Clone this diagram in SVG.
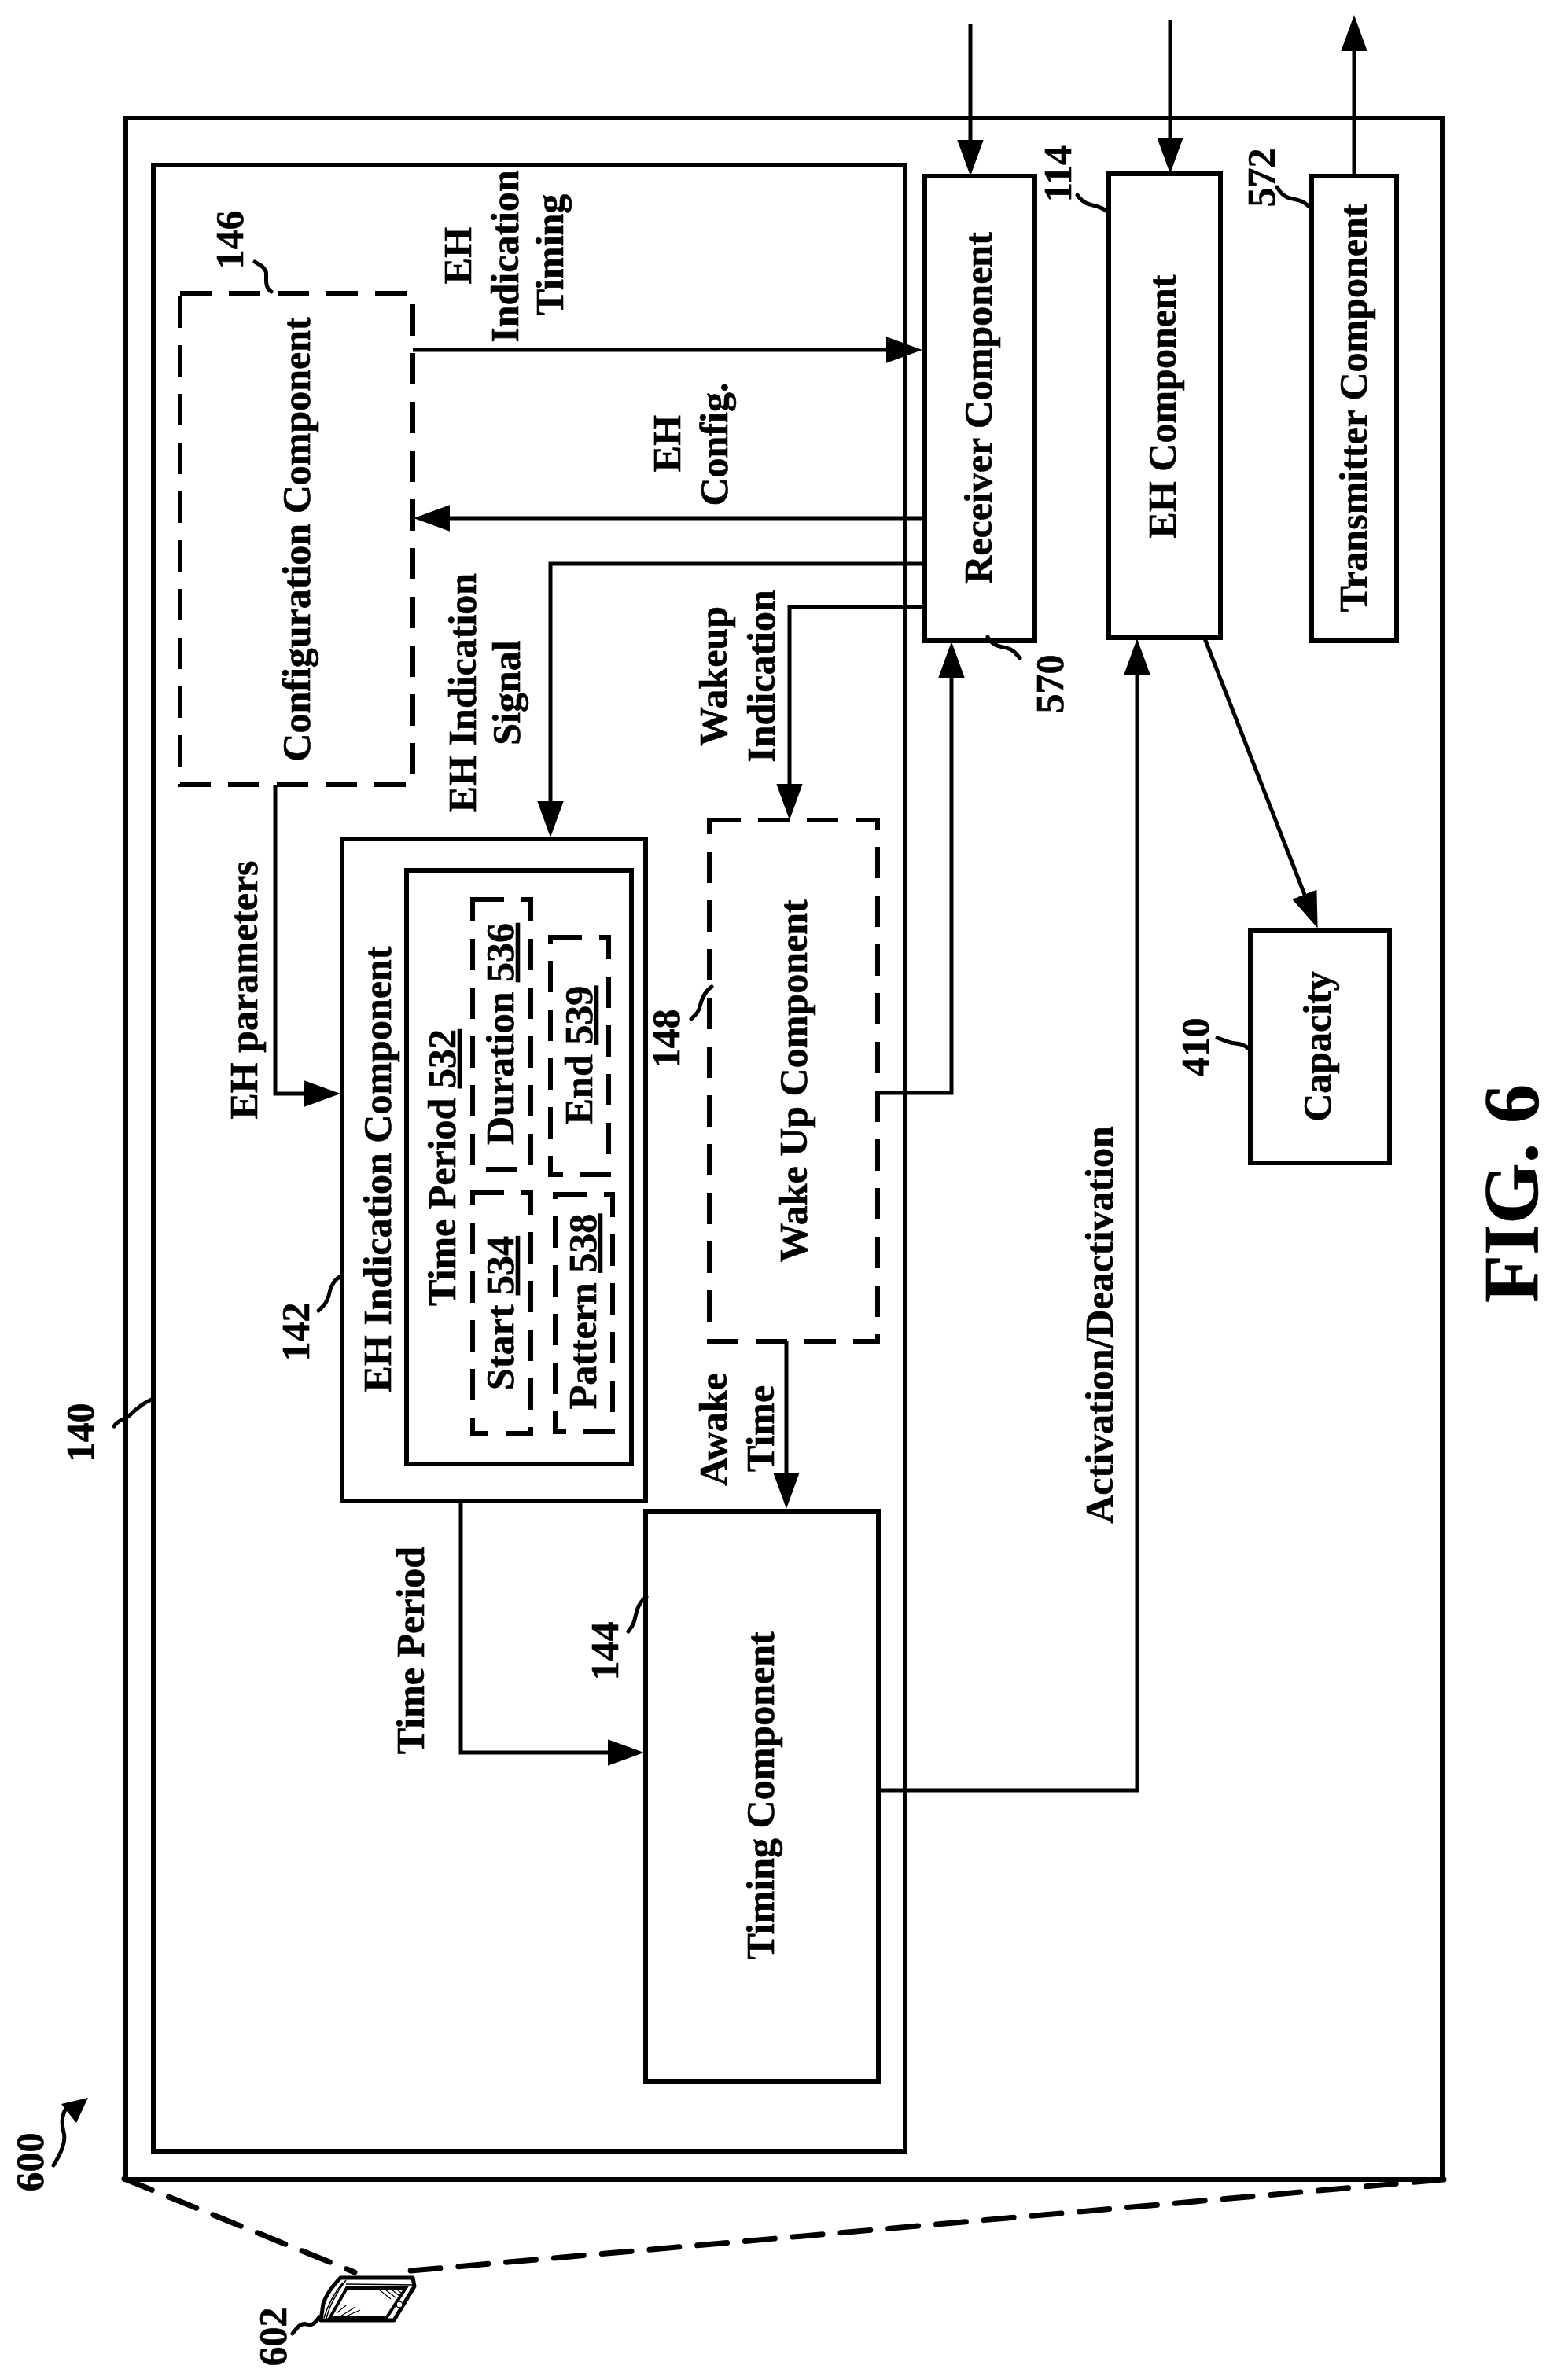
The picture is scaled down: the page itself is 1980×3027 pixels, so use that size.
<svg xmlns="http://www.w3.org/2000/svg" width="1980" height="3027" viewBox="0 0 1980 3027">
<style>
text{font-family:"Liberation Serif","Times New Roman",serif;font-weight:bold;fill:#000;text-anchor:middle;stroke:#000;stroke-width:.6px}
.t{font-size:50px}
.n{font-size:50px}
.u{text-decoration:underline}
.b{fill:none;stroke:#000;stroke-width:6}
.d{fill:none;stroke:#000;stroke-width:6;stroke-dasharray:40 22}
.c{fill:none;stroke:#000;stroke-width:5;marker-end:url(#ah)}
.s{fill:none;stroke:#000;stroke-width:5;stroke-linecap:round}
.l{fill:none;stroke:#000;stroke-width:7;stroke-dasharray:38 23;stroke-linecap:round}
</style>
<defs>
<marker id="ah" markerUnits="userSpaceOnUse" markerWidth="46" markerHeight="34" viewBox="0 0 44 32" refX="24" refY="16" orient="auto"><path d="M0 0L44 16L0 32Z" fill="#000"/></marker>
</defs>
<rect width="1980" height="3027" fill="#fff"/>
<g id="ue-600">
<rect class="b" x="160" y="150" width="1674" height="2622"/>
<path class="s" d="M68 2754C80 2735 84 2722 81 2712C78 2700 78 2690 86 2678"/>
<path d="M112 2668L78 2676L97 2700Z" fill="#000"/>
<text class="n" transform="translate(55,2750) rotate(-90)">600</text>
</g>
<g id="apparatus-140">
<rect class="b" x="195" y="210" width="956" height="2526"/>
<path class="s" d="M195 1779C180 1785 170 1795 165 1800C155 1808 152 1804 145 1814"/>
<text class="n" transform="translate(119,1822) rotate(-90)">140</text>
</g>
<g id="connectors">
<path class="c" d="M1234 30V203"/>
<path class="c" d="M1488 26V200"/>
<path class="c" d="M1722 224V40"/>
<path class="c" d="M525 445H1152"/>
<path class="c" d="M1175 659H547"/>
<path class="c" d="M1175 717H700V1044"/>
<path class="c" d="M1175 772H1004V1022"/>
<path class="c" d="M350 998V1391H412"/>
<path class="c" d="M586 1909V2229H798"/>
<path class="c" d="M1000 1706V1898"/>
<path class="c" d="M1116 1390H1210V837"/>
<path class="c" d="M1116 2277H1446V833"/>
<path class="c" d="M1532 812L1668 1161"/>
<path class="l" d="M158 2771L451 2890"/>
<path class="l" d="M1836 2772L511 2889"/>
</g>
<g id="edge-labels">
<text class="t" transform="translate(599,325) rotate(-90)">EH</text>
<text class="t" transform="translate(659,326) rotate(-90)">Indication</text>
<text class="t" transform="translate(716,324) rotate(-90)">Timing</text>
<text class="t" transform="translate(865,564) rotate(-90)">EH</text>
<text class="t" transform="translate(925,565) rotate(-90)">Config.</text>
<text class="t" transform="translate(605,881) rotate(-90)">EH Indication</text>
<text class="t" transform="translate(661,881) rotate(-90)">Signal</text>
<text class="t" transform="translate(924,860) rotate(-90)">Wakeup</text>
<text class="t" transform="translate(985,860) rotate(-90)">Indication</text>
<text class="t" transform="translate(327,1259) rotate(-90)">EH parameters</text>
<text class="t" transform="translate(539,2099) rotate(-90)">Time Period</text>
<text class="t" transform="translate(924,1818) rotate(-90)">Awake</text>
<text class="t" transform="translate(984,1817) rotate(-90)">Time</text>
<text class="t" transform="translate(1415,1685) rotate(-90)">Activation/Deactivation</text>
</g>
<g id="configuration-146">
<rect class="d" x="229" y="373" width="296" height="625"/>
<text class="t" transform="translate(394,686) rotate(-90)">Configuration Component</text>
<path class="s" d="M345 371C335 365 340 350 338 345C334 338 332 338 324 333"/>
<text class="n" transform="translate(309,305) rotate(-90)">146</text>
</g>
<g id="eh-indication-142">
<rect class="b" x="435" y="1067" width="386" height="842"/>
<rect class="b" x="517" y="1107" width="286" height="755"/>
<text class="t" transform="translate(497,1487) rotate(-90)">EH Indication Component</text>
<text class="t" transform="translate(579,1485) rotate(-90)">Time Period <tspan class="u">532</tspan></text>
<path class="s" d="M432 1624C422 1630 420 1640 418 1648C415 1658 412 1660 405 1667"/>
<text class="n" transform="translate(393,1694) rotate(-90)">142</text>
</g>
<g id="start-534">
<rect class="d" x="601" y="1517" width="74" height="306"/>
<text class="t" transform="translate(653,1670) rotate(-90)">Start <tspan class="u">534</tspan></text>
</g>
<g id="duration-536">
<rect class="d" x="601" y="1144" width="74" height="343"/>
<text class="t" transform="translate(653,1315) rotate(-90)">Duration <tspan class="u">536</tspan></text>
</g>
<g id="pattern-538">
<rect class="d" x="706" y="1519" width="73" height="302"/>
<text class="t" transform="translate(758,1668) rotate(-90)">Pattern <tspan class="u">538</tspan></text>
</g>
<g id="end-539">
<rect class="d" x="700" y="1192" width="74" height="302"/>
<text class="t" transform="translate(753,1342) rotate(-90)">End <tspan class="u">539</tspan></text>
</g>
<g id="wake-up-148">
<rect class="d" x="902" y="1043" width="214" height="663"/>
<text class="t" transform="translate(1026,1375) rotate(-90)">Wake Up Component</text>
<path class="s" d="M905 1255C895 1262 892 1272 890 1280C888 1288 885 1290 879 1296"/>
<text class="n" transform="translate(864,1321) rotate(-90)">148</text>
</g>
<g id="timing-144">
<rect class="b" x="821" y="1922" width="296" height="725"/>
<text class="t" transform="translate(984,2284) rotate(-90)">Timing Component</text>
<path class="s" d="M822 2031C812 2038 810 2048 808 2056C806 2066 804 2068 799 2075"/>
<text class="n" transform="translate(786,2100) rotate(-90)">144</text>
</g>
<g id="receiver-570">
<rect class="b" x="1176" y="224" width="140" height="591"/>
<text class="t" transform="translate(1261,519) rotate(-90)">Receiver Component</text>
<path class="s" d="M1256 810C1262 822 1272 822 1280 824C1288 826 1291 830 1297 837"/>
<text class="n" transform="translate(1352,870) rotate(-90)">570</text>
</g>
<g id="eh-component-114">
<rect class="b" x="1410" y="221" width="142" height="590"/>
<text class="t" transform="translate(1495,517) rotate(-90)">EH Component</text>
<path class="s" d="M1409 270C1400 262 1392 262 1386 260C1378 258 1374 254 1370 248"/>
<text class="n" transform="translate(1362,221) rotate(-90)">114</text>
</g>
<g id="transmitter-572">
<rect class="b" x="1668" y="224" width="108" height="591"/>
<text class="t" transform="translate(1738,519) rotate(-90)">Transmitter Component</text>
<path class="s" d="M1665 263C1656 254 1648 254 1640 252C1632 250 1628 245 1624 238"/>
<text class="n" transform="translate(1621,226) rotate(-90)">572</text>
</g>
<g id="capacity-410">
<rect class="b" x="1590" y="1183" width="177" height="296"/>
<text class="t" transform="translate(1692,1331) rotate(-90)">Capacity</text>
<path class="s" d="M1588 1334C1580 1326 1572 1328 1565 1326C1558 1324 1554 1322 1548 1320"/>
<text class="n" transform="translate(1537,1332) rotate(-90)">410</text>
</g>
<g id="device-602">
<path d="M433 2897H525L527 2908L501 2951H408L411 2930C415 2918 425 2905 433 2897Z" fill="#fff" stroke="#000" stroke-width="5" stroke-linejoin="round"/>
<path d="M441 2910H516L492 2947H420Z" fill="#fff" stroke="#000" stroke-width="4"/>
<path d="M440 2905L526 2906M440 2900C428 2915 418 2935 415 2949M436 2903C424 2918 416 2934 412 2948" fill="none" stroke="#000" stroke-width="1.5"/>
<path d="M482 2912L497 2924M490 2912L503 2922M498 2912L508 2920M505 2912L510 2916M428 2942L440 2932M433 2946L452 2934M440 2946L458 2938" fill="none" stroke="#000" stroke-width="1.2"/>
<circle cx="508" cy="2931" r="4" fill="#fff" stroke="#000" stroke-width="1.5"/>
<path class="s" d="M406 2947C400 2956 396 2958 390 2956C382 2954 378 2960 372 2968"/>
<text class="n" transform="translate(364,2972) rotate(-90)">602</text>
</g>
<g id="figure-label">
<text transform="translate(1955,1518) rotate(-90)" font-size="100">FIG. 6</text>
</g>
</svg>
